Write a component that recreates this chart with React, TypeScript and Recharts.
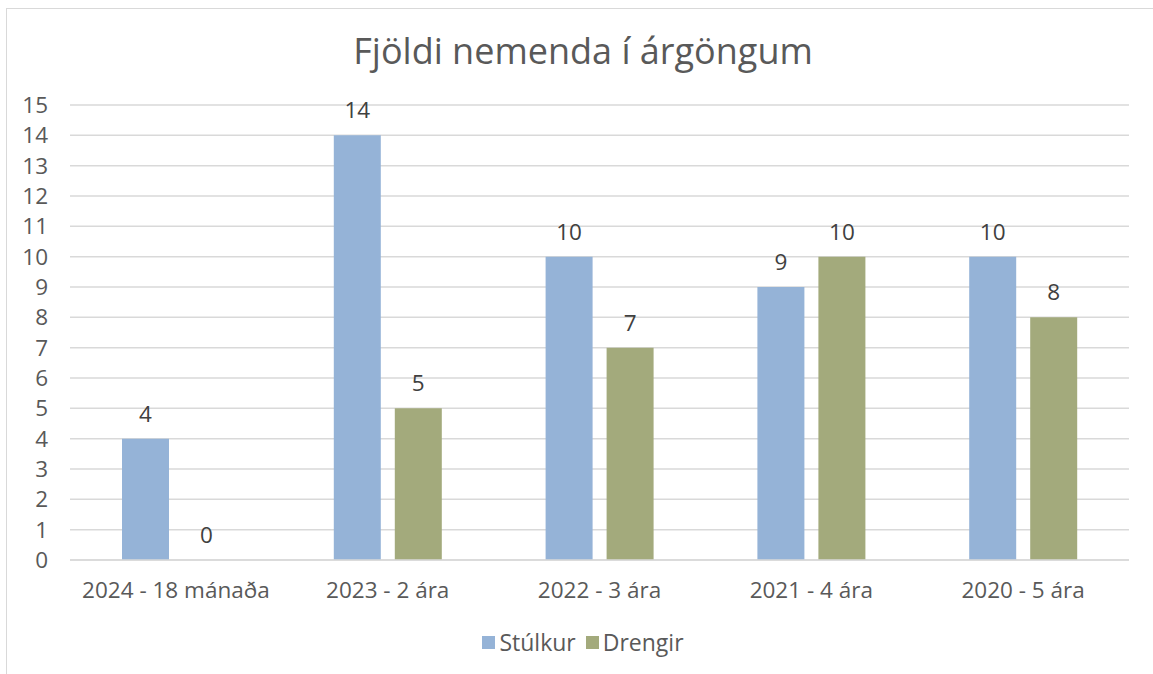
import { BarChart, Bar, XAxis, YAxis, CartesianGrid, Legend, LabelList } from "recharts";

const categories = ["2024 - 18 mánaða", "2023 - 2 ára", "2022 - 3 ára", "2021 - 4 ára", "2020 - 5 ára"];
const stulkur = [4, 14, 10, 9, 10];
const drengir = [0, 5, 7, 10, 8];
const yTicks = [0, 1, 2, 3, 4, 5, 6, 7, 8, 9, 10, 11, 12, 13, 14, 15];

const data = categories.map((name, i) => ({ name, Stúlkur: stulkur[i], Drengir: drengir[i] }));

const FONT = "'Open Sans', 'DejaVu Sans', sans-serif";
const BLUE = "#95b3d7";
const GREEN = "#a3aa7c";

function LegendContent() {
  const items = [
    { label: "Stúlkur", color: BLUE },
    { label: "Drengir", color: GREEN },
  ];
  return (
    <div style={{ display: "flex", justifyContent: "center", alignItems: "center", height: 30, fontFamily: FONT, fontSize: 23, color: "#595959" }}>
      {items.map((it) => (
        <div key={it.label} style={{ display: "flex", alignItems: "center", margin: "0 5px" }}>
          <span style={{ width: 13, height: 13, background: it.color, display: "inline-block", marginRight: 4 }} />
          <span>{it.label}</span>
        </div>
      ))}
    </div>
  );
}

export default function App() {
  return (
    <div style={{ position: "fixed", left: 6, top: 8, width: 1170, height: 700, border: "1px solid #d9d9d9", background: "#fff", overflow: "hidden" }}>
      <div style={{ position: "absolute", left: 0, top: 20, width: 1152, textAlign: "center", fontFamily: FONT, fontSize: 36, lineHeight: "44px", color: "#595959" }}>
        Fjöldi nemenda í árgöngum
      </div>
      <BarChart width={1170} height={680} data={data} margin={{ top: 96, right: 48, bottom: 32, left: 0 }} barGap={14} barSize={47}>
        <CartesianGrid vertical={false} stroke="#d9d9d9" strokeWidth={1.5} />
        <XAxis
          dataKey="name"
          height={67}
          tickLine={false}
          axisLine={{ stroke: "#d9d9d9", strokeWidth: 1.5 }}
          tick={{ fontSize: 22.5, fill: "#595959", fontFamily: FONT }}
          tickMargin={16}
          interval={0}
        />
        <YAxis
          width={63}
          domain={[0, 15]}
          ticks={yTicks}
          interval={0}
          tickLine={false}
          axisLine={false}
          tickSize={0}
          tickMargin={22}
          tick={{ fontSize: 22.5, fill: "#595959", fontFamily: FONT }}
        />
        <Legend verticalAlign="bottom" height={30} content={<LegendContent />} wrapperStyle={{ left: 0, width: 1152 }} />
        <Bar dataKey="Stúlkur" fill={BLUE} isAnimationActive={false} minPointSize={0.01}>
          <LabelList dataKey="Stúlkur" position="top" offset={17} style={{ fontSize: 22.5, fill: "#404040", fontFamily: FONT }} />
        </Bar>
        <Bar dataKey="Drengir" fill={GREEN} isAnimationActive={false} minPointSize={0.01}>
          <LabelList dataKey="Drengir" position="top" offset={17} style={{ fontSize: 22.5, fill: "#404040", fontFamily: FONT }} />
        </Bar>
      </BarChart>
    </div>
  );
}
